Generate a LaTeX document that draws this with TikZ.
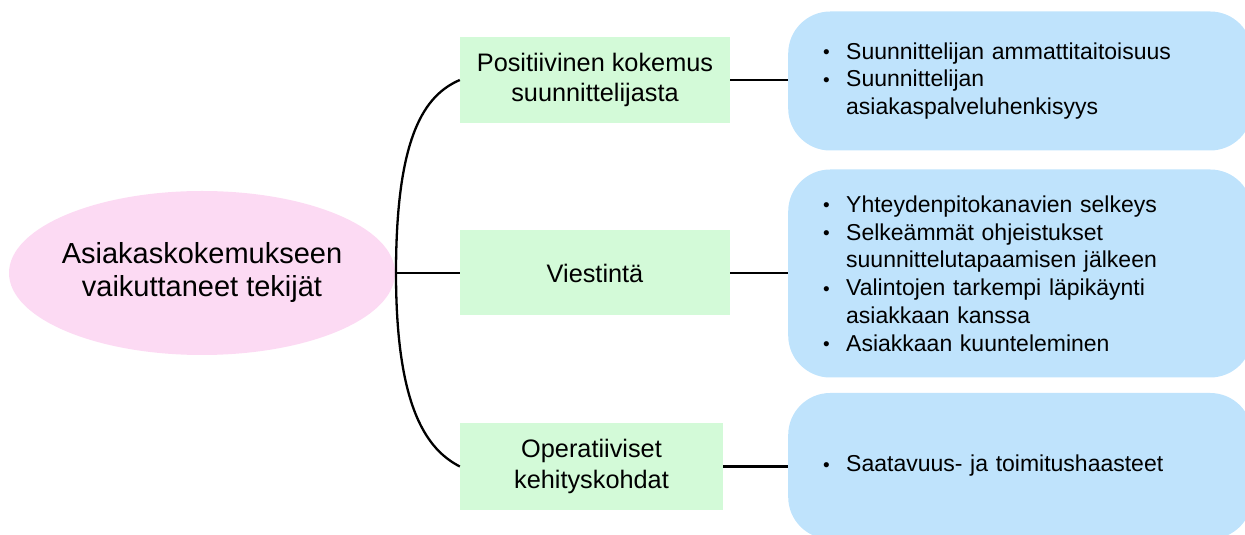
\documentclass[tikz,border=0pt]{standalone}
\usepackage{fontspec}
\setmainfont{Liberation Sans}
\usetikzlibrary{shapes.geometric}
\definecolor{pinkfill}{RGB}{252,218,243}
\definecolor{greenfill}{RGB}{211,250,216}
\definecolor{bluefill}{RGB}{191,227,252}
\newcommand{\bul}{\makebox[22pt][l]{\hspace*{-1pt}\raisebox{0.5pt}{\fontsize{19}{19}\selectfont •}}}
\newcommand{\ind}{\hspace*{22pt}}
\tikzset{
  root/.style={ellipse, fill=pinkfill, minimum width=386pt, minimum height=164pt, inner sep=0pt},
  roottext/.style={align=center, font=\fontsize{29}{33}\selectfont, inner sep=0pt},
  topic/.style={rectangle, fill=greenfill, inner sep=0pt, align=center, font=\fontsize{25.3}{30.5}\selectfont},
  detail/.style={rectangle, rounded corners=42pt, fill=bluefill, minimum width=464pt, inner xsep=36pt, inner ysep=0pt, text width=392pt, align=left, font=\fontsize{23}{27.8}\selectfont},
  link/.style={draw=black, line width=2.3pt}
}
\begin{document}
\begin{tikzpicture}[x=1pt,y=1pt]
\useasboundingbox (0,0) rectangle (1245,535);
\node[root, label={[roottext]center:{Asiakaskokemukseen\\vaikuttaneet tekijät}}] (root) at (202,262) {};
\node[topic, minimum width=270pt, minimum height=86pt] (t1) at (595,455) {Positiivinen kokemus\\suunnittelijasta};
\node[topic, minimum width=270pt, minimum height=85pt] (t2) at (595,262) {Viestintä};
\node[topic, minimum width=263pt, minimum height=87pt] (t3) at (591.5,68.5) {Operatiiviset\\kehityskohdat};
\node[detail, minimum height=139pt, anchor=west] (d1) at (788,454) {\bul Suunnittelijan ammattitaitoisuus\\\bul Suunnittelijan\\\ind asiakaspalveluhenkisyys};
\node[detail, minimum height=208pt, anchor=west] (d2) at (788,261.5) {\bul Yhteydenpitokanavien selkeys\\\bul Selkeämmät ohjeistukset\\\ind suunnittelutapaamisen jälkeen\\\bul Valintojen tarkempi läpikäynti\\\ind asiakkaan kanssa\\\bul Asiakkaan kuunteleminen};
\node[detail, minimum height=146pt, anchor=west] (d3) at (788,69) {\bul Saatavuus- ja toimitushaasteet};
\coordinate (j) at (396,262);
\draw[link] (root.east) -- (t2.west);
\draw[link] (j) .. controls (396,400) and (425,440) .. (t1.west);
\draw[link] (j) .. controls (396,125) and (428,85) .. (t3.west);
\draw[link] (t1.east) -- (d1.west |- t1.east);
\draw[link] (t2.east) -- (d2.west |- t2.east);
\draw[link] (t3.east) -- (d3.west |- t3.east);
\end{tikzpicture}
\end{document}
